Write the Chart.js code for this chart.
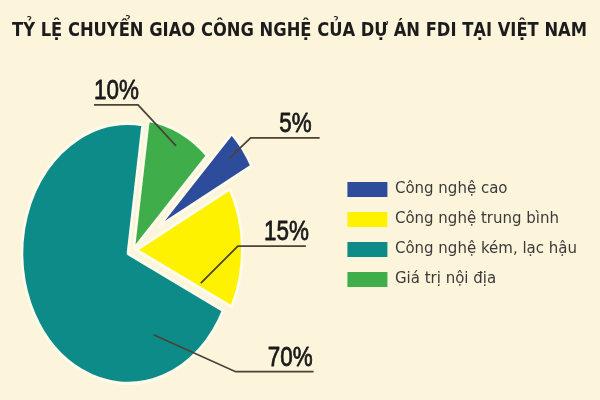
<!DOCTYPE html>
<html>
<head>
<meta charset="utf-8">
<script src="https://cdn.jsdelivr.net/npm/chart.js@4.4.1/dist/chart.umd.min.js"></script>
<style>
html,body{margin:0;padding:0;background:#fcf5dc;}
#wrap{width:600px;height:400px;position:relative;}
</style>
</head>
<body>
<div id="wrap"><canvas id="c"></canvas></div>
<script>
// ---- data ----
const chartTitle = 'TỶ LỆ CHUYỂN GIAO CÔNG NGHỆ CỦA DỰ ÁN FDI TẠI VIỆT NAM';
const categories = ['Công nghệ cao', 'Công nghệ trung bình', 'Công nghệ kém, lạc hậu', 'Giá trị nội địa'];
const shares = [5, 15, 70, 10];
const shareLabels = shares.map(v => v + '%');

// ---- style ----
const sliceColors = ['#2e4c9c', '#fff200', '#0c8b88', '#3fad4a'];

function pieView(chart, opts) {
  const arcs = chart.getDatasetMeta(0).data;
  const R = arcs[0].outerRadius;
  return { sx: opts.rx / R, sy: opts.ry / R, px: chart.chartArea.left, py: arcs[0].y };
}

const piePlugin = {
  id: 'ellipsePie',
  beforeDatasetDraw(chart, args, opts) {
    const ctx = chart.ctx;
    const arcs = args.meta.data;
    if (!arcs.length) return;
    const v = pieView(chart, opts);
    ctx.save();
    ctx.translate(v.px, v.py);
    ctx.scale(v.sx, v.sy);
    ctx.translate(-v.px, -v.py);
    arcs.forEach((arc, i) => {
      const d = opts.explode[i] || 0;
      const mid = (arc.startAngle + arc.endAngle) / 2;
      ctx.save();
      ctx.translate(Math.cos(mid) * d, Math.sin(mid) * d);
      arc.draw(ctx);
      ctx.restore();
    });
    ctx.restore();
    return false;
  },
  afterDraw(chart, args, opts) {
    const ctx = chart.ctx;
    const arcs = chart.getDatasetMeta(0).data;
    if (!arcs.length) return;
    const v = pieView(chart, opts);
    arcs.forEach((arc, i) => {
      const c = opts.callouts[i];
      const d = opts.explode[i] || 0;
      const mid = (arc.startAngle + arc.endAngle) / 2;
      const a = arc.startAngle + c.at * (arc.endAngle - arc.startAngle);
      const ux = arc.x + Math.cos(mid) * d + Math.cos(a) * arc.outerRadius * c.r;
      const uy = arc.y + Math.sin(mid) * d + Math.sin(a) * arc.outerRadius * c.r;
      const ax = v.px + (ux - v.px) * v.sx, ay = v.py + (uy - v.py) * v.sy;
      const ex = ax + c.elbow[0], ey = ay + c.elbow[1];
      const endX = ex + c.run;
      ctx.save();
      ctx.strokeStyle = opts.lineColor;
      ctx.lineWidth = opts.lineWidth;
      ctx.beginPath();
      ctx.moveTo(ax, ay);
      ctx.lineTo(ex, ey);
      ctx.lineTo(endX, ey);
      ctx.stroke();
      ctx.fillStyle = opts.textColor;
      ctx.strokeStyle = opts.textColor;
      ctx.lineWidth = opts.textStroke;
      ctx.lineJoin = 'round';
      ctx.font = opts.font;
      ctx.textBaseline = 'alphabetic';
      ctx.textAlign = c.run > 0 ? 'right' : 'left';
      ctx.translate(endX + c.textShift, ey - 6);
      ctx.scale(opts.textSqueeze, 1);
      ctx.fillText(shareLabels[i], 0, 0);
      ctx.strokeText(shareLabels[i], 0, 0);
      ctx.restore();
    });
  }
};

new Chart(document.getElementById('c'), {
  type: 'pie',
  data: {
    labels: categories,
    datasets: [{
      data: shares,
      backgroundColor: sliceColors,
      borderColor: '#fffbea',
      borderWidth: 3.5,
      offset: 0,
      hoverOffset: 0,
      radius: 140
    }]
  },
  options: {
    responsive: true,
    maintainAspectRatio: false,
    animation: false,
    rotation: 44,
    layout: { padding: { left: 12, right: 13, top: 0, bottom: -69 } },
    plugins: {
      title: {
        display: true,
        text: chartTitle,
        color: '#1c1c1c',
        font: { family: "'Liberation Sans Narrow','DejaVu Sans Condensed','Liberation Sans',sans-serif", size: 20, weight: 'bold' },
        padding: { top: 19, bottom: 57 }
      },
      legend: {
        position: 'right',
        labels: {
          boxWidth: 40,
          boxHeight: 15,
          padding: 15,
          color: '#3a3a3a',
          font: { family: "'DejaVu Sans',sans-serif", size: 15 },
          generateLabels(chart) {
            const base = Chart.overrides.pie.plugins.legend.labels.generateLabels(chart);
            return base.map(l => Object.assign(l, { lineWidth: 0 }));
          }
        }
      },
      tooltip: { enabled: false },
      ellipsePie: {
        rx: 106,
        ry: 130,
        explode: [41, 4, 8, 1],
        lineColor: '#4a4338',
        lineWidth: 1.8,
        textColor: '#1a1a1a',
        textStroke: 0.8,
        font: "28px 'Liberation Sans',sans-serif",
        textSqueeze: 0.8,
        callouts: [
          { at: 0.43, r: 0.86, elbow: [21, -20], run: 69, textShift: -8 },
          { at: 0.94, r: 0.66, elbow: [37, -37], run: 68, textShift: 3 },
          { at: 0.17, r: 0.67, elbow: [82, 37], run: 78, textShift: -1 },
          { at: 0.52, r: 0.89, elbow: [-38, -41], run: -44, textShift: 0 }
        ]
      }
    }
  },
  plugins: [piePlugin]
});
</script>
</body>
</html>
